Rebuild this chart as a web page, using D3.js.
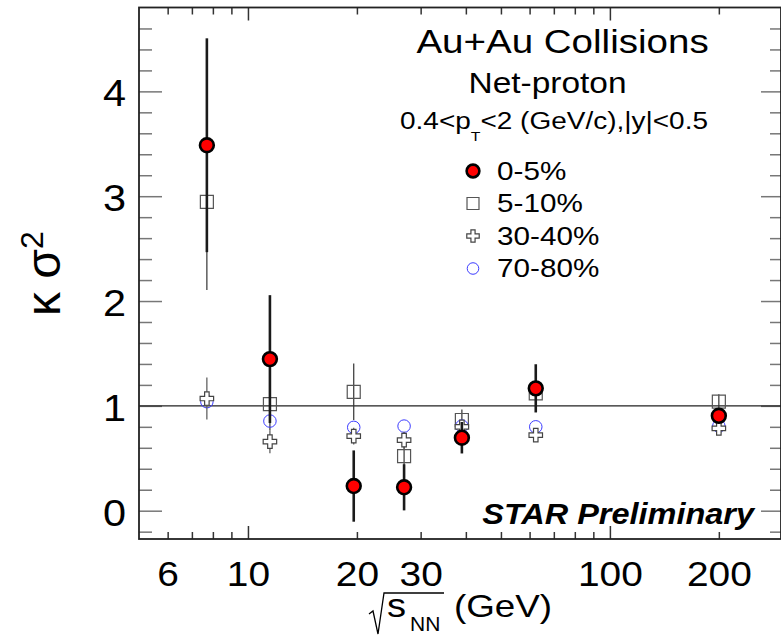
<!DOCTYPE html>
<html>
<meta charset="utf-8">
<script src="https://cdn.jsdelivr.net/npm/d3@7"></script>
<style>
  body { margin: 0; background: #fff; }
  svg { display: block; font-family: "Liberation Sans", Arial, Helvetica, sans-serif; }
</style>
<body>
<script>

// collision energies (GeV) and kappa*sigma^2 per centrality
var energies = [7.7, 11.5, 19.6, 27, 39, 62.4, 200];
var centralities = ["0-5%", "5-10%", "30-40%", "70-80%"];

var ks0to5   = [3.486, 1.446, 0.235, 0.223, 0.696, 1.167, 0.905];
var err0to5  = [1.02, 0.61, 0.34, 0.22, 0.15, 0.23, 0.07];
var ks5to10  = [2.946, 1.017, 1.134, 0.521, 0.865, 1.12, 1.04];
var err5to10 = [0.84, 0.25, 0.27, 0.15, 0.1, 0.12, 0.07];
var ks30to40  = [1.07, 0.658, 0.712, 0.674, 0.80, 0.72, 0.785];
var err30to40 = [0.2, 0.11, 0.08, 0.08, 0.06, 0.06, 0.04];
var ks70to80  = [1.04, 0.855, 0.795, 0.807, 0.807, 0.80, 0.807];
var err70to80 = [0, 0, 0, 0, 0, 0, 0];   // smaller than the marker

// axis ticks
var yMajor = [0, 1, 2, 3, 4];
var yMinor = d3.range(-0.2, 4.7, 0.2).filter(function(v) { return Math.abs(v - Math.round(v)) > 0.01; });
var xMajor = [10, 100];
var xMinor = [6, 7, 8, 9, 20, 30, 40, 50, 60, 70, 80, 90, 200];
var xLabels = [6, 10, 20, 30, 100, 200];

var width = 781, height = 635;
var padL = 139, padR = 781, padT = 7.5, padB = 539;

var x = d3.scaleLog().domain([5, 297]).range([padL, padR]);
var y = d3.scaleLinear().domain([-0.27, 4.8]).range([padB, padT]);

var svg = d3.select("body").append("svg")
  .attr("width", width)
  .attr("height", height);

// text with a little horizontal stretch, like the original render
function label(g, px, py, str, size, sx, anchor) {
  return g.append("text")
    .attr("transform", "translate(" + px + "," + py + ") scale(" + sx + ",1)")
    .attr("text-anchor", anchor || "start")
    .style("font-size", size + "px")
    .text(str);
}

function ticks(axis, transform, values, size, color) {
  svg.append("g")
    .attr("transform", transform)
    .call(axis.tickValues(values).tickSize(size).tickFormat(""))
    .call(function(g) { g.select(".domain").remove(); })
    .call(function(g) { g.selectAll("line").attr("stroke", color).attr("stroke-width", 1.5); });
}

ticks(d3.axisBottom(x), "translate(0," + padB + ")", xMinor, -7, "#333");
ticks(d3.axisBottom(x), "translate(0," + padB + ")", xMajor, -13, "#333");
ticks(d3.axisTop(x), "translate(0," + padT + ")", xMinor, -7, "#333");
ticks(d3.axisTop(x), "translate(0," + padT + ")", xMajor, -13, "#333");
ticks(d3.axisLeft(y), "translate(" + padL + ",0)", yMinor, -13, "#777");
ticks(d3.axisLeft(y), "translate(" + padL + ",0)", yMajor, -23, "#777");
ticks(d3.axisRight(y), "translate(" + padR + ",0)", yMinor, -11, "#777");
ticks(d3.axisRight(y), "translate(" + padR + ",0)", yMajor, -20, "#777");

// tick labels
svg.append("g")
  .attr("transform", "translate(0," + padB + ")")
  .call(d3.axisBottom(x).tickValues(xLabels).tickSize(0).tickFormat(d3.format("d")))
  .call(function(g) { g.select(".domain").remove(); })
  .call(function(g) {
    g.selectAll("text")
      .attr("y", 47).attr("dy", null)
      .attr("transform", "scale(1.08,1)")
      .attr("fill", "#000")
      .style("font-size", "36px")
      .style("font-family", null);
  });

svg.append("g")
  .attr("transform", "translate(" + padL + ",0)")
  .call(d3.axisLeft(y).tickValues(yMajor).tickSize(0).tickFormat(d3.format("d")))
  .call(function(g) { g.select(".domain").remove(); })
  .call(function(g) {
    g.selectAll("text")
      .attr("x", -13 / 1.12).attr("y", 14.5).attr("dy", null)
      .attr("transform", "scale(1.12,1)")
      .attr("fill", "#000")
      .style("font-size", "37px")
      .style("font-family", null);
  });

// frame and reference line
svg.append("rect")
  .attr("x", padL).attr("y", padT)
  .attr("width", padR - padL).attr("height", padB - padT)
  .attr("fill", "none").attr("stroke", "#222").attr("stroke-width", 1.8);

svg.append("line")
  .attr("x1", padL).attr("x2", padR)
  .attr("y1", y(1)).attr("y2", y(1))
  .attr("stroke", "#222").attr("stroke-width", 1.2);

// series
var styles = [
  { vals: ks0to5, errs: err0to5, type: d3.symbolCircle, size: 150, fill: "#ff0000", stroke: "#000", sw: 2.6, ecol: "#1a1a1a", ew: 2.6 },
  { vals: ks5to10, errs: err5to10, type: d3.symbolSquare, size: 169, fill: "none", stroke: "#555", sw: 1.2, ecol: "#333", ew: 1.2 },
  { vals: ks30to40, errs: err30to40, type: d3.symbolCross, size: 101, fill: "#fff", stroke: "#444", sw: 1.2, ecol: "#555", ew: 1.2 },
  { vals: ks70to80, errs: err70to80, type: d3.symbolCircle, size: 123, fill: "none", stroke: "#3b3bff", sw: 1, ecol: "#3b3bff", ew: 1 }
];
var drawOrder = [1, 3, 2, 0];

drawOrder.forEach(function(i) {
  var s = styles[i];
  var pts = energies.map(function(e, j) { return { e: e, v: s.vals[j], err: s.errs[j] }; });
  var g = svg.append("g");

  g.selectAll("line")
    .data(pts.filter(function(d) { return d.err > 0; }))
    .enter().append("line")
    .attr("x1", function(d) { return x(d.e); })
    .attr("x2", function(d) { return x(d.e); })
    .attr("y1", function(d) { return y(d.v - d.err); })
    .attr("y2", function(d) { return y(d.v + d.err); })
    .attr("stroke", s.ecol)
    .attr("stroke-width", s.ew);

  g.selectAll("path")
    .data(pts)
    .enter().append("path")
    .attr("d", d3.symbol().type(s.type).size(s.size))
    .attr("transform", function(d) { return "translate(" + x(d.e) + "," + y(d.v) + ")"; })
    .attr("fill", s.fill)
    .attr("stroke", s.stroke)
    .attr("stroke-width", s.sw);
});

// header text
var head = svg.append("g").attr("fill", "#000");
label(head, 562.5, 53, "Au+Au Collisions", 33.5, 1.15, "middle");
label(head, 547.5, 92.7, "Net-proton", 30, 1.115, "middle");

var cut = head.append("text")
  .attr("x", 400).attr("y", 129.3)
  .attr("textLength", 308)
  .attr("lengthAdjust", "spacingAndGlyphs")
  .style("font-size", "23px");
cut.append("tspan").text("0.4<p");
cut.append("tspan").attr("dy", 12).style("font-size", "13px").text("T");
cut.append("tspan").attr("dy", -12).text("<2 (GeV/c),|y|<0.5");

// legend
centralities.forEach(function(name, i) {
  var s = styles[i];
  var cy = 171 + i * 32.5;
  svg.append("path")
    .attr("d", d3.symbol().type(s.type).size(s.size * 0.85))
    .attr("transform", "translate(473," + cy + ")")
    .attr("fill", s.fill)
    .attr("stroke", s.stroke)
    .attr("stroke-width", s.sw);
  label(svg, 497, cy + 8.5, name, 26.5, 1.12, "start");
});

// STAR Preliminary
label(svg, 754, 523.7, "STAR Preliminary", 29, 1.12, "end")
  .style("font-weight", "bold")
  .style("font-style", "italic");

// y axis title
var yt = svg.append("text")
  .attr("transform", "translate(60,316) rotate(-90)")
  .style("font-size", "48px");
yt.append("tspan").text("κ σ");
yt.append("tspan").attr("dy", -17).style("font-size", "32px").text("2");

// x axis title: sqrt(s_NN) (GeV)
var xt = svg.append("g");
xt.append("path")
  .attr("d", "M369,614 L373,611 L378,634 L384,593 L444,593")
  .attr("fill", "none").attr("stroke", "#000").attr("stroke-width", 1.3);
label(xt, 387, 616.6, "s", 34, 1.12, "start");
label(xt, 410, 631, "NN", 21, 1.0, "start");
label(xt, 454, 616.6, "(GeV)", 32, 1.15, "start");

</script>
</body>
</html>
